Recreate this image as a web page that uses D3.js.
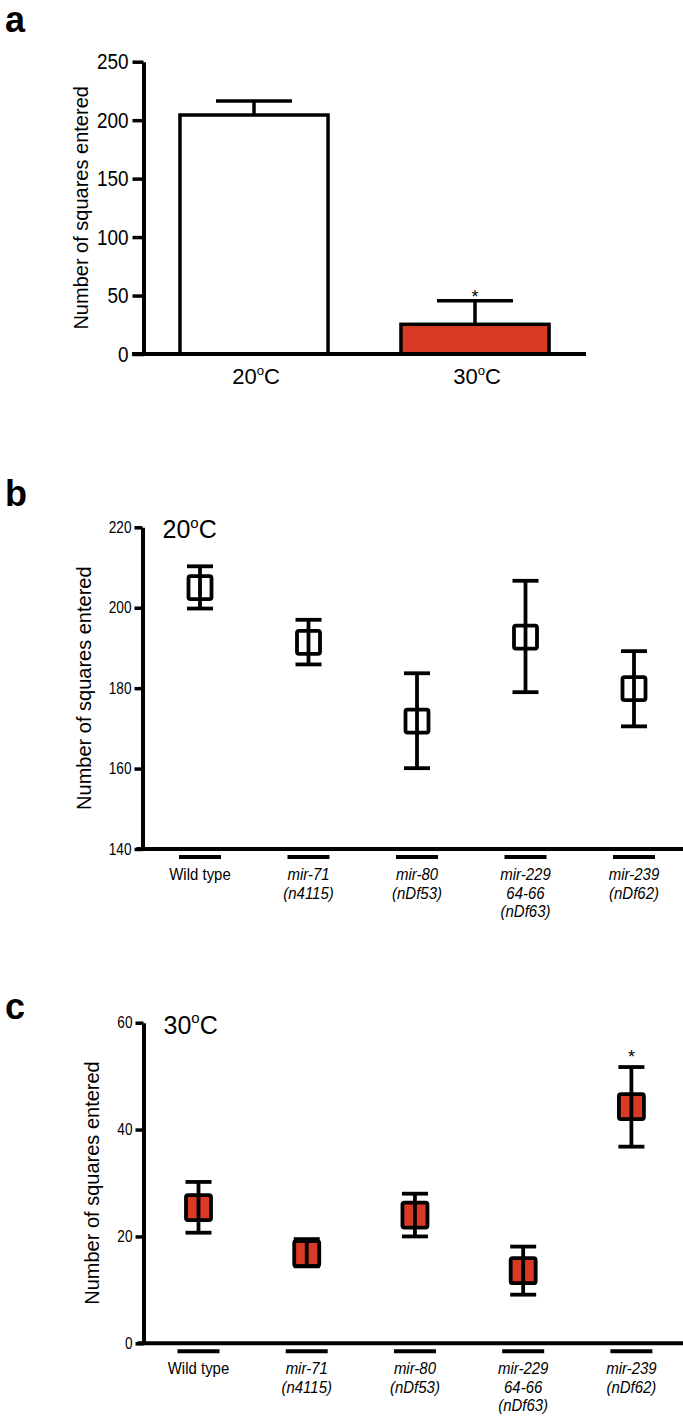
<!DOCTYPE html>
<html><head><meta charset="utf-8">
<script src="https://cdn.jsdelivr.net/npm/d3@7"></script>
<style>
body{margin:0;background:#fff;}
svg text{font-family:"Liberation Sans", Arial, Helvetica, sans-serif;fill:#000;}
</style></head><body>
<svg id="chart" width="683" height="1424"></svg>
<script>
// ---- data ----
const tempCategories = ["20", "30"];
const tempMeans = [204.4, 25.4];
const tempUpper = [216.4, 45.6];
const tempTicks = [0, 50, 100, 150, 200, 250];
const tempSig = [false, true];

const strains = ["Wild type", "mir-71", "mir-80", "mir-229", "mir-239"];
const strainSub = [[], ["(n4115)"], ["(nDf53)"], ["64-66", "(nDf63)"], ["(nDf62)"]];
const strainItalic = [false, true, true, true, true];

const b20Means = [205.0, 191.4, 171.8, 192.7, 179.9];
const b20Upper = [210.3, 197.0, 183.7, 206.7, 189.2];
const b20Lower = [199.8, 185.9, 160.1, 179.0, 170.5];
const b20Ticks = [140, 160, 180, 200, 220];
const b20Sig = [false, false, false, false, false];

const c30Means = [25.4, 16.8, 24.0, 13.6, 44.3];
const c30Upper = [30.2, 19.5, 28.0, 18.1, 51.7];
const c30Lower = [20.7, 14.4, 20.0, 9.1, 36.8];
const c30Ticks = [0, 20, 40, 60];
const c30Sig = [false, false, false, false, true];

const RED = "#d93a26";
const svg = d3.select("#chart");

// condense a text horizontally (reference uses a narrow Helvetica)
function condense(sel, f) {
  sel.each(function () {
    const L = this.getComputedTextLength();
    d3.select(this).attr("textLength", L * f).attr("lengthAdjust", "spacingAndGlyphs");
  });
}

// "20°C" style label: number, raised small "o", then "C"
function degLabel(sel, num, bigSize) {
  sel.text(null);
  sel.append("tspan").text(num);
  sel.append("tspan").attr("font-size", bigSize * 0.6).attr("dy", -bigSize * 0.42).text("o");
  sel.append("tspan").attr("dy", bigSize * 0.42).text("C");
}

// ---- panel a ----
{
  const g = svg.append("g");
  g.append("text").attr("x", 5).attr("y", 32).attr("font-size", 36).attr("font-weight", "bold").text("a");
  const y = d3.scaleLinear().domain([0, 250]).range([354, 61.7]);
  const x = d3.scaleBand().domain(tempCategories).range([143.5, 585.5]).paddingInner(0.33).paddingOuter(0.165);
  const yAxis = d3.axisLeft(y).tickValues(tempTicks).tickSize(11).tickSizeOuter(0).tickPadding(4);
  const ax = g.append("g").attr("transform", "translate(143.5,0)").call(yAxis);
  ax.select(".domain").attr("stroke-width", 4).attr("stroke", "#000");
  ax.selectAll(".tick line").attr("stroke-width", 3.5).attr("stroke", "#000");
  ax.selectAll(".tick text").attr("font-size", 22).attr("font-family", null).attr("fill", "#000").call(condense, 0.86);
  // bars
  g.selectAll("rect.bar").data(tempCategories).join("rect")
    .attr("x", d => x(d)).attr("width", x.bandwidth())
    .attr("y", (d, i) => y(tempMeans[i])).attr("height", (d, i) => y(0) - y(tempMeans[i]))
    .attr("fill", (d, i) => i === 0 ? "#fff" : RED).attr("stroke", "#000").attr("stroke-width", 3.5);
  // error bars
  g.selectAll("line.err").data(tempCategories).join("line")
    .attr("x1", d => x(d) + x.bandwidth() / 2).attr("x2", d => x(d) + x.bandwidth() / 2)
    .attr("y1", (d, i) => y(tempMeans[i])).attr("y2", (d, i) => y(tempUpper[i]))
    .attr("stroke", "#000").attr("stroke-width", 3.5);
  g.selectAll("line.cap").data(tempCategories).join("line")
    .attr("x1", d => x(d) + x.bandwidth() / 2 - 38).attr("x2", d => x(d) + x.bandwidth() / 2 + 38)
    .attr("y1", (d, i) => y(tempUpper[i])).attr("y2", (d, i) => y(tempUpper[i]))
    .attr("stroke", "#000").attr("stroke-width", 3.5);
  g.selectAll("text.sig").data(tempCategories.filter((d, i) => tempSig[i])).join("text")
    .attr("x", d => x(d) + x.bandwidth() / 2).attr("y", d => y(tempUpper[tempCategories.indexOf(d)]) + 2)
    .attr("text-anchor", "middle").attr("font-size", 18).text("*");
  // x axis line
  g.append("line").attr("x1", 132).attr("x2", 586).attr("y1", y(0)).attr("y2", y(0)).attr("stroke", "#000").attr("stroke-width", 4);
  g.selectAll("text.xl").data(tempCategories).join("text")
    .attr("x", d => x(d) + x.bandwidth() / 2 + 2).attr("y", 384).attr("text-anchor", "middle").attr("font-size", 22)
    .each(function (d) { degLabel(d3.select(this), d, 22); });
  g.append("text").attr("transform", `translate(88,${(y(0) + y(250)) / 2}) rotate(-90)`)
    .attr("text-anchor", "middle").attr("font-size", 20).text("Number of squares entered");
}

// ---- dot panels ----
function dotPanel(opts) {
  const g = svg.append("g");
  g.append("text").attr("x", 5).attr("y", opts.letterY).attr("font-size", 36).attr("font-weight", "bold").text(opts.letter);
  const y = d3.scaleLinear().domain(opts.domain).range(opts.yRange);
  const x = d3.scalePoint().domain(strains).range(opts.xRange);
  const yAxis = d3.axisLeft(y).tickValues(opts.ticks).tickSize(8).tickSizeOuter(0).tickPadding(3);
  const ax = g.append("g").attr("transform", `translate(${opts.axisX},0)`).call(yAxis);
  ax.select(".domain").attr("stroke-width", 4).attr("stroke", "#000");
  ax.selectAll(".tick line").attr("stroke-width", 3.5).attr("stroke", "#000");
  ax.selectAll(".tick text").attr("font-size", 16).attr("font-family", null).attr("fill", "#000").call(condense, 0.85);
  g.append("line").attr("x1", opts.axisX - 6).attr("x2", 683).attr("y1", opts.yRange[0]).attr("y2", opts.yRange[0])
    .attr("stroke", "#000").attr("stroke-width", 4);
  // dashes under axis
  g.selectAll("line.dash").data(strains).join("line")
    .attr("x1", d => x(d) - 21).attr("x2", d => x(d) + 21)
    .attr("y1", opts.yRange[0] + 8).attr("y2", opts.yRange[0] + 8)
    .attr("stroke", "#000").attr("stroke-width", 4);
  // labels
  g.selectAll("text.xl").data(strains).join("text")
    .attr("x", d => x(d)).attr("y", opts.yRange[0] + 31).attr("text-anchor", "middle").attr("font-size", 17)
    .each(function (d, i) {
      const t = d3.select(this);
      const lines = [d].concat(strainSub[i]);
      lines.forEach((s, k) => {
        const ts = t.append("tspan").attr("x", x(d)).attr("dy", k === 0 ? 0 : 18.5)
          .attr("font-style", (k > 0 || strainItalic[i]) ? "italic" : null).text(s);
        const L = ts.node().getComputedTextLength();
        ts.attr("textLength", L * 0.88).attr("lengthAdjust", "spacingAndGlyphs");
      });
    });
  // markers
  const sq = opts.sq;
  g.selectAll("rect.sq").data(strains).join("rect")
    .attr("x", d => x(d) - sq / 2).attr("width", sq)
    .attr("y", (d, i) => y(opts.means[i]) - sq / 2).attr("height", sq)
    .attr("rx", 2)
    .attr("fill", opts.fill).attr("stroke", "#000").attr("stroke-width", 3.8);
  g.selectAll("line.err").data(strains).join("line")
    .attr("x1", d => x(d)).attr("x2", d => x(d))
    .attr("y1", (d, i) => y(opts.lower[i])).attr("y2", (d, i) => y(opts.upper[i]))
    .attr("stroke", "#000").attr("stroke-width", 3.8);
  ["upper", "lower"].forEach(k => {
    g.selectAll("line.cap" + k).data(strains).join("line")
      .attr("x1", d => x(d) - 13).attr("x2", d => x(d) + 13)
      .attr("y1", (d, i) => y(opts[k][i])).attr("y2", (d, i) => y(opts[k][i]))
      .attr("stroke", "#000").attr("stroke-width", 3.8);
  });
  g.selectAll("text.sig").data(strains.filter((d, i) => opts.sig[i])).join("text")
    .attr("x", d => x(d)).attr("y", d => y(opts.upper[strains.indexOf(d)]) - 4)
    .attr("text-anchor", "middle").attr("font-size", 18).text("*");
  g.append("text").attr("x", opts.axisX + 20).attr("y", opts.yRange[1] + 11).attr("font-size", 25)
    .each(function () { degLabel(d3.select(this), opts.temp, 25); });
  g.append("text").attr("transform", `translate(${opts.labelX},${(opts.yRange[0] + opts.yRange[1]) / 2}) rotate(-90)`)
    .attr("text-anchor", "middle").attr("font-size", 20).text("Number of squares entered");
}

dotPanel({ letter: "b", letterY: 506, domain: [140, 220], yRange: [849, 527.3], xRange: [200, 634], axisX: 142.5, sq: 23,
  ticks: b20Ticks, means: b20Means, upper: b20Upper, lower: b20Lower, sig: b20Sig, fill: "#fff", temp: "20", labelX: 91 });
dotPanel({ letter: "c", letterY: 1019, domain: [0, 60], yRange: [1343.3, 1022.7], xRange: [198.5, 631.4], axisX: 143.5, sq: 25,
  ticks: c30Ticks, means: c30Means, upper: c30Upper, lower: c30Lower, sig: c30Sig, fill: RED, temp: "30", labelX: 99 });
</script>
</body></html>
